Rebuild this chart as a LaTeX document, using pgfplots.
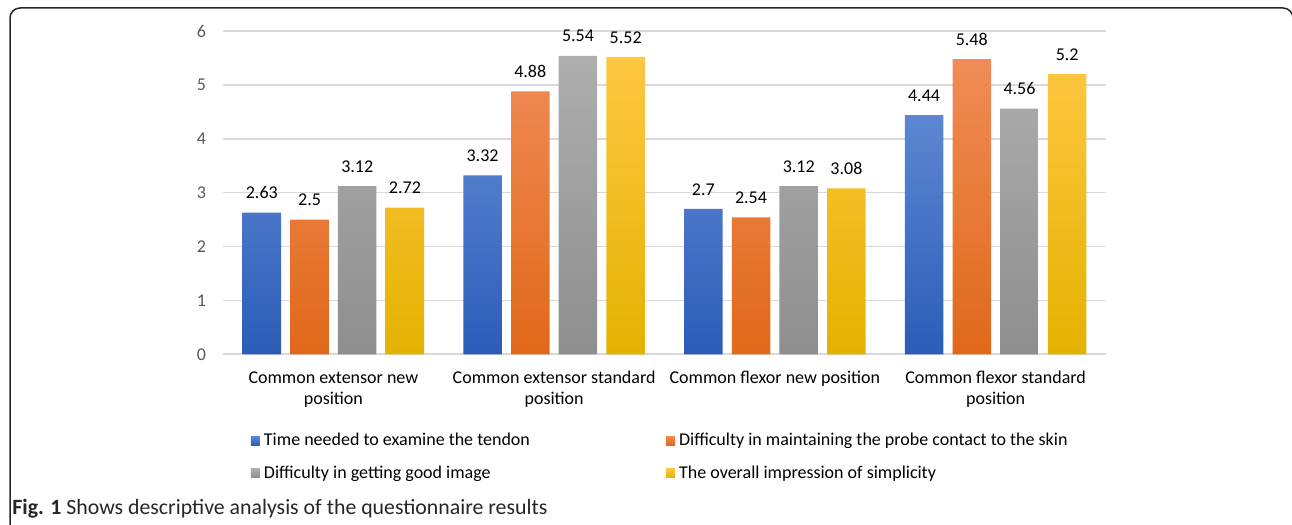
\documentclass[border=0pt]{standalone}
\usepackage{fontspec}
\setmainfont{Carlito}
\usepackage{pgfplots}
\pgfplotsset{compat=1.18}

\definecolor{blueT}{RGB}{92,135,210}
\definecolor{blueB}{RGB}{44,92,184}
\definecolor{orangeT}{RGB}{240,140,86}
\definecolor{orangeB}{RGB}{224,104,26}
\definecolor{grayT}{RGB}{174,174,174}
\definecolor{grayB}{RGB}{142,142,142}
\definecolor{yellowT}{RGB}{255,199,66}
\definecolor{yellowB}{RGB}{228,178,0}
\definecolor{gridgray}{RGB}{217,217,217}
\definecolor{ticktext}{RGB}{89,89,89}

\begin{document}
\begin{tikzpicture}
\useasboundingbox (0,0) rectangle (646pt,262.5pt);
\begin{scope}
  \clip (0,0) rectangle (646pt,262.5pt);
  \draw[line width=0.75pt, rounded corners=5pt, black!85]
    (5pt,-3pt) -- (5pt,258.5pt) -- (646.5pt,258.5pt) -- (646.5pt,-3pt);
\end{scope}
\node[anchor=base west, inner sep=0pt, font=\fontsize{10.9}{12}\selectfont, text=black!85]
  at (6pt,5pt) {\textbf{Fig. 1} Shows descriptive analysis of the questionnaire results};

\begin{axis}[
    at={(111.5pt,85.35pt)}, anchor=south west,
    scale only axis,
    width=441.5pt, height=161.65pt,
    ybar=4.6pt, bar width=19.25pt,
    xmin=-0.5, xmax=3.5,
    ymin=0, ymax=6,
    ytick={0,1,2,3,4,5,6},
    xtick={0,1,2,3},
    xticklabels={{Common extensor new\\position},{Common extensor standard\\position},{Common flexor new position},{Common flexor standard\\position}},
    major tick length=0pt,
    axis line style={draw=none},
    ymajorgrids, grid style={gridgray, line width=0.8pt},
    clip=false,
    /pgf/number format/assume math mode=true,
    ticklabel style={font=\fontsize{9}{10.5}\selectfont},
    yticklabel style={text=ticktext, xshift=-5pt},
    xticklabel style={align=center, yshift=-5pt},
    nodes near coords,
    nodes near coords style={font=\fontsize{9}{10}\selectfont, anchor=base, yshift=6.9pt, text=black},
    legend columns=2,
    legend cell align=left,
    legend image code/.code={\path[#1, draw=none] (0pt,-2.3pt) rectangle (4.6pt,2.3pt);},
    legend style={at={(axis description cs:0.031,-0.23)}, anchor=north west,
        draw=none, fill=none, inner sep=0pt, row sep=4.5pt,
        font=\fontsize{9}{10.5}\selectfont,
        /tikz/every even column/.append style={column sep=66pt}},
]
\addplot[draw=none, top color=blueT, bottom color=blueB] coordinates {(0,2.63) (1,3.32) (2,2.7) (3,4.44)};
\addlegendentry{Time needed to examine the tendon}
\addplot[draw=none, top color=orangeT, bottom color=orangeB] coordinates {(0,2.5) (1,4.88) (2,2.54) (3,5.48)};
\addlegendentry{Difficulty in maintaining the probe contact to the skin}
\addplot[draw=none, top color=grayT, bottom color=grayB] coordinates {(0,3.12) (1,5.54) (2,3.12) (3,4.56)};
\addlegendentry{Difficulty in getting good image}
\addplot[draw=none, top color=yellowT, bottom color=yellowB] coordinates {(0,2.72) (1,5.52) (2,3.08) (3,5.2)};
\addlegendentry{The overall impression of simplicity}
\end{axis}
\end{tikzpicture}
\end{document}
